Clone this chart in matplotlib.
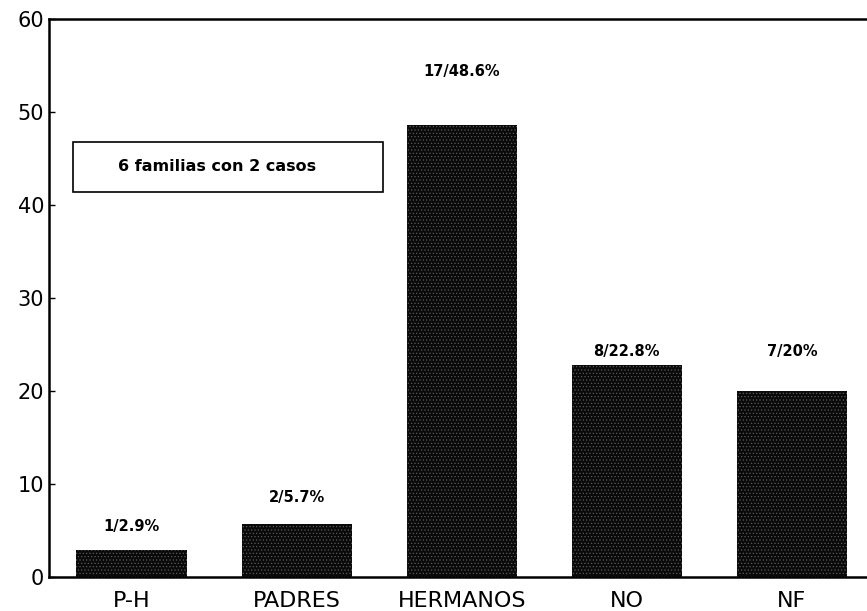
import matplotlib.pyplot as plt
from matplotlib.patches import Rectangle

# categories and values
categories = ['P-H', 'PADRES', 'HERMANOS', 'NO', 'NF']
values = [2.9, 5.7, 48.6, 22.8, 20.0]
bar_labels = ['1/2.9%', '2/5.7%', '17/48.6%', '8/22.8%', '7/20%']
y_ticks = [0, 10, 20, 30, 40, 50, 60]

# heights where the labels sit (as drawn in the original)
label_y = [5.4, 8.5, 54.4, 24.2, 24.2]

plt.rcParams['hatch.linewidth'] = 0.5

fig = plt.figure(figsize=(8.67, 6.11), dpi=100)
ax = fig.add_axes([0.0565, 0.056, 0.9435, 0.913])

x = range(len(categories))
ax.bar(x, values, width=0.667, color='#0a0a0a', hatch='.....',
       edgecolor='#5a5a5a', linewidth=0)

for i, lab in enumerate(bar_labels):
    ax.text(i, label_y[i], lab, ha='center', va='center',
            fontsize=10.5, fontweight='bold')

# note box
ax.add_patch(Rectangle((-0.355, 41.4), 1.88, 5.4, facecolor='white',
                       edgecolor='black', linewidth=1.2, zorder=3))
ax.text(-0.08, 44.1, '6 familias con 2 casos', ha='left', va='center',
        fontsize=11.5, fontweight='bold', zorder=4)

ax.set_xlim(-0.5, 4.455)
ax.set_ylim(0, 60)
ax.set_yticks(y_ticks)
ax.set_xticks(list(x))
ax.set_xticklabels(categories, fontsize=16)
ax.tick_params(axis='y', labelsize=15, direction='in', length=4, width=1)
ax.tick_params(axis='x', length=0, pad=10)

for side in ['left', 'top', 'bottom']:
    ax.spines[side].set_linewidth(1.8)
ax.spines['right'].set_visible(False)

fig.savefig('out.png', dpi=100)
